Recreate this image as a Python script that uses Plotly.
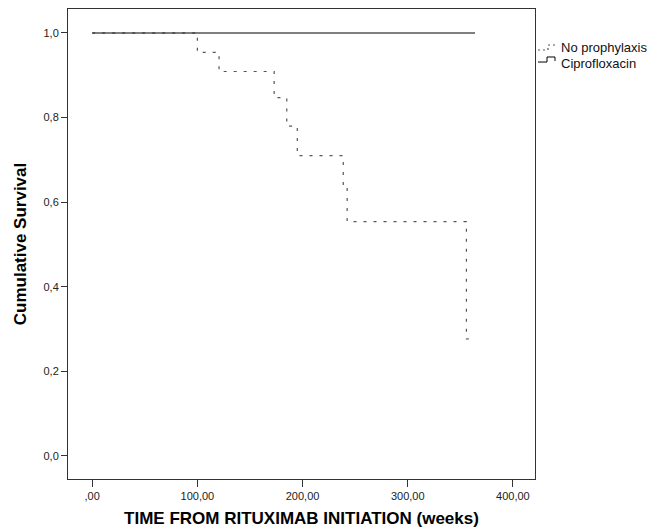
import plotly.graph_objects as go

# Kaplan-Meier step data (weeks, cumulative survival)
noproph_time = [0, 100, 120.6, 173, 185, 195, 238.7, 242.4, 355.8, 358]
noproph_surv = [1.0, 0.954, 0.909, 0.847, 0.780, 0.710, 0.634, 0.554, 0.277, 0.277]

cipro_time = [0, 364]
cipro_surv = [1.0, 1.0]

series_names = ["No prophylaxis", "Ciprofloxacin"]

x_ticks = [0, 100, 200, 300, 400]
x_ticktext = [",00", "100,00", "200,00", "300,00", "400,00"]
y_ticks = [0.0, 0.2, 0.4, 0.6, 0.8, 1.0]
y_ticktext = ["0,0", "0,2", "0,4", "0,6", "0,8", "1,0"]

W, H = 660, 531
ML, MR, MT, MB = 60, 133, 1, 60
PW, PH = W - ML - MR, H - MT - MB


def px(x, y):
    """figure pixel -> paper coordinates"""
    return (x - ML) / PW, (H - MB - y) / PH


dot_color = "#555555"
fig = go.Figure()
fig.add_trace(go.Scatter(
    x=noproph_time, y=noproph_surv, mode="lines", name=series_names[0],
    line=dict(shape="hv", color=dot_color, width=1.2, dash="3px,7px"),
    showlegend=False,
))
fig.add_trace(go.Scatter(
    x=cipro_time, y=cipro_surv, mode="lines", name=series_names[1],
    line=dict(shape="hv", color="#000000", width=1.2),
    showlegend=False,
))

font_family = "Liberation Sans, Arial, sans-serif"

# manual SPSS-style legend
shapes = []
annotations = []
rows = [40, 55]  # figure-pixel y centres of the legend rows
sym_paths = [
    [(530, 42), (540, 42), (540, 37), (549, 37)],
    [(530, 54), (539, 54), (539, 49), (547, 49), (547, 53)],
]
sym_styles = [dict(color=dot_color, width=1.2, dash="2px,3px"),
              dict(color="#000000", width=1)]
for name, yrow, pts, st in zip(series_names, rows, sym_paths, sym_styles):
    p = [px(*q) for q in pts]
    path = "M " + " L ".join(f"{a:.4f},{b:.4f}" for a, b in p)
    shapes.append(dict(type="path", xref="paper", yref="paper", path=path,
                       line=st))
    tx, ty = px(551, yrow)
    annotations.append(dict(xref="paper", yref="paper", x=tx, y=ty,
                            xanchor="left", yanchor="middle", text=name,
                            showarrow=False,
                            font=dict(size=13, color="#111111")))

fig.update_layout(
    width=W, height=H,
    margin=dict(l=ML, r=MR, t=MT, b=MB),
    paper_bgcolor="white", plot_bgcolor="white",
    font=dict(family=font_family, size=11, color="#222222"),
    showlegend=False,
    shapes=shapes,
    annotations=annotations,
    xaxis=dict(
        range=[-23, 421], tickvals=x_ticks, ticktext=x_ticktext,
        ticks="outside", ticklen=7, tickcolor="#333333",
        showline=True, linecolor="#333333", linewidth=1, mirror=True,
        showgrid=False, zeroline=False,
        title=dict(text="<b>TIME FROM RITUXIMAB INITIATION (weeks)</b>",
                   font=dict(size=17, color="#000000"), standoff=10),
    ),
    yaxis=dict(
        range=[-0.0544, 1.0567], tickvals=y_ticks, ticktext=y_ticktext,
        ticks="outside", ticklen=6, tickcolor="#333333",
        showline=True, linecolor="#333333", linewidth=1, mirror=True,
        showgrid=False, zeroline=False,
        title=dict(text="<b>Cumulative Survival</b>",
                   font=dict(size=17, color="#000000"), standoff=12),
    ),
)

fig.write_html("out.html")
